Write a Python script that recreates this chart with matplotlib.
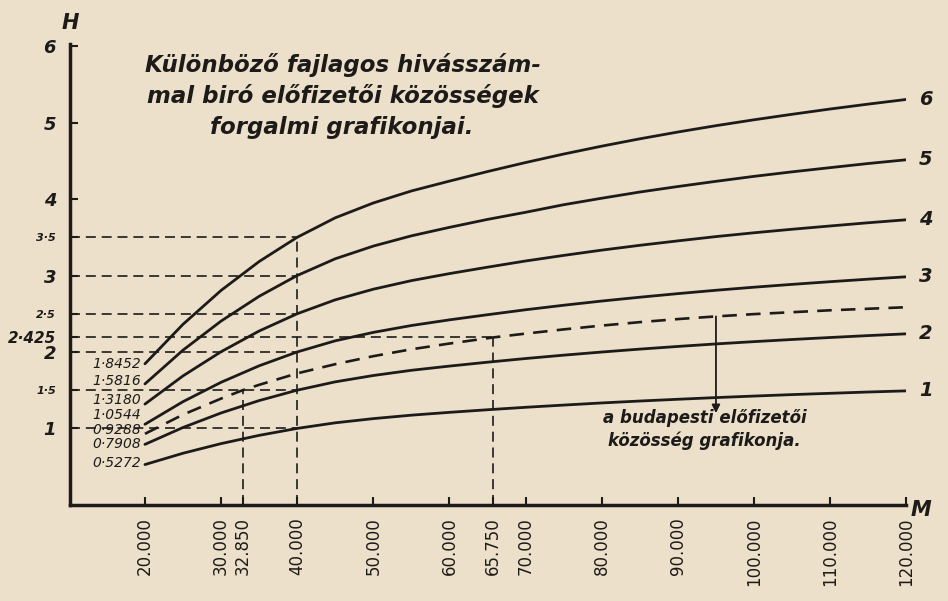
import matplotlib.pyplot as plt
import numpy as np

# subscriber count (M) and traffic (H)
M_VALUES = [20000, 25000, 30000, 35000, 40000, 45000, 50000, 55000, 60000, 65000, 70000,
            75000, 80000, 85000, 90000, 95000, 100000, 105000, 110000, 115000, 120000]
CURVE_1 = [0.527, 0.675, 0.801, 0.909, 1.000, 1.073, 1.128, 1.173, 1.210, 1.244, 1.276,
           1.305, 1.333, 1.358, 1.381, 1.403, 1.423, 1.442, 1.459, 1.476, 1.491]
CURVE_2 = [0.791, 1.012, 1.202, 1.364, 1.500, 1.609, 1.692, 1.760, 1.815, 1.866, 1.914,
           1.958, 1.999, 2.037, 2.072, 2.105, 2.135, 2.163, 2.189, 2.214, 2.237]
CURVE_3 = [1.054, 1.350, 1.603, 1.819, 2.000, 2.146, 2.256, 2.346, 2.420, 2.487, 2.552,
           2.611, 2.666, 2.716, 2.763, 2.807, 2.847, 2.884, 2.919, 2.952, 2.983]
CURVE_4 = [1.318, 1.687, 2.003, 2.274, 2.500, 2.682, 2.821, 2.933, 3.025, 3.109, 3.190,
           3.263, 3.332, 3.395, 3.453, 3.509, 3.559, 3.605, 3.648, 3.690, 3.729]
CURVE_5 = [1.582, 2.024, 2.404, 2.728, 3.000, 3.219, 3.385, 3.519, 3.630, 3.734, 3.827,
           3.926, 4.011, 4.092, 4.164, 4.232, 4.297, 4.356, 4.411, 4.465, 4.514]
CURVE_6 = [1.845, 2.362, 2.805, 3.183, 3.500, 3.755, 3.949, 4.106, 4.235, 4.360, 4.478,
           4.589, 4.692, 4.788, 4.877, 4.960, 5.037, 5.109, 5.178, 5.242, 5.303]
CURVES = [CURVE_1, CURVE_2, CURVE_3, CURVE_4, CURVE_5, CURVE_6]
CURVE_NAMES = ["1", "2", "3", "4", "5", "6"]
START_LABELS = ["0·5272", "0·7908", "1·0544", "1·3180", "1·5816", "1·8452"]

# the Budapest community (dashed curve)
BUDAPEST_M = [20000, 25000, 30000, 32850, 35000, 40000, 45000, 50000, 55000, 60000, 65750,
              70000, 75000, 80000, 85000, 90000, 95000, 100000, 105000, 110000, 115000, 120000]
BUDAPEST_H = [0.929, 1.180, 1.390, 1.500, 1.570, 1.720, 1.840, 1.945, 2.035, 2.110, 2.190,
              2.240, 2.295, 2.345, 2.390, 2.430, 2.465, 2.495, 2.520, 2.545, 2.565, 2.585]
BUDAPEST_LABEL = "0·9288"

# marked reference points
REF_M = 40000
BUDAPEST_REF_M = [32850, 65750]
LEVEL_LABELS = {"1": 0, "1·5": 1, "2": 2, "2·5": 3, "3": 4, "3·5": 5}

X_TICKS = [20000, 30000, 32850, 40000, 50000, 60000, 65750, 70000,
           80000, 90000, 100000, 110000, 120000]

INK = "#1d1b19"
PAPER = "#ede0ca"
X_LEFT = 10150

fig = plt.figure(figsize=(9.48, 6.01), dpi=100, facecolor=PAPER)
ax = fig.add_axes([0.0738, 0.160, 0.8822, 0.767])
ax.set_facecolor(PAPER)
ax.set_xlim(X_LEFT, 120000)
ax.set_ylim(0, 6.03)

for curve in CURVES:
    ax.plot(M_VALUES, curve, color=INK, lw=2.0, solid_capstyle="round")
ax.plot(BUDAPEST_M, BUDAPEST_H, color=INK, lw=1.9, dashes=(5.5, 3.5))

# dashed construction lines
ref_idx = M_VALUES.index(REF_M)
ref_levels = [c[ref_idx] for c in CURVES]
dash_kw = dict(color=INK, lw=1.2, dashes=(6, 3.5))
for level in ref_levels:
    ax.plot([X_LEFT, REF_M], [level, level], **dash_kw)
ax.plot([REF_M, REF_M], [0, max(ref_levels)], **dash_kw)
bud_levels = []
for m in BUDAPEST_REF_M:
    h = BUDAPEST_H[BUDAPEST_M.index(m)]
    bud_levels.append(h)
    ax.plot([m, m], [0, h], **dash_kw)
ax.plot([X_LEFT, BUDAPEST_REF_M[1]], [bud_levels[1]] * 2, **dash_kw)

# starting value labels
offsets = [1, 0, 7, 3, 2, 0]
for curve, label, dy in zip(CURVES, START_LABELS, offsets):
    ax.annotate(label, (M_VALUES[0], curve[0]), xytext=(-3, dy),
                textcoords="offset points", ha="right", va="center",
                fontsize=10, fontstyle="italic", color=INK)
ax.annotate(BUDAPEST_LABEL, (BUDAPEST_M[0], BUDAPEST_H[0]), xytext=(-3, 3),
            textcoords="offset points", ha="right", va="center",
            fontsize=10, fontstyle="italic", color=INK)

# curve numbers at the right end
for curve, name in zip(CURVES, CURVE_NAMES):
    ax.annotate(name, (M_VALUES[-1], curve[-1]), xytext=(14, 0),
                textcoords="offset points", ha="center", va="center",
                fontsize=14, fontweight="bold", fontstyle="italic", color=INK,
                annotation_clip=False)

# y ticks
yticks = [4, 5, 6]
ylabels = ["4", "5", "6"]
ysizes = [13, 13, 13]
for text, i in LEVEL_LABELS.items():
    yticks.append(ref_levels[i])
    ylabels.append(text)
    ysizes.append(13 if "·" not in text else 8)
yticks.append(bud_levels[1])
ylabels.append("2·425")
ysizes.append(11)
ax.set_yticks(yticks)
ax.set_yticklabels(ylabels)
for lab, size in zip(ax.get_yticklabels(), ysizes):
    lab.set_fontsize(size)
    lab.set_fontweight("bold")
    lab.set_fontstyle("italic")
    lab.set_color(INK)

ax.set_xticks(X_TICKS)
ax.set_xticklabels([f"{m // 1000}.{m % 1000:03d}" for m in X_TICKS],
                   rotation=90, fontsize=12, color=INK)
ax.tick_params(axis="both", direction="in", length=6, width=1.5, color=INK)
ax.tick_params(axis="y", pad=10)
ax.tick_params(axis="x", pad=9)

for side in ["top", "right"]:
    ax.spines[side].set_visible(False)
for side in ["left", "bottom"]:
    ax.spines[side].set_linewidth(2.5)
    ax.spines[side].set_color(INK)

fig.text(70 / 948, 1 - 23 / 601, "H", ha="center", va="center",
         fontsize=15, fontweight="bold", fontstyle="italic", color=INK)
fig.text(921 / 948, 1 - 510 / 601, "M", ha="center", va="center",
         fontsize=15, fontweight="bold", fontstyle="italic", color=INK)

# title
title_kw = dict(fontsize=16.5, fontweight="bold", fontstyle="italic", color=INK, va="baseline")
fig.text(145 / 948, 1 - 72 / 601, "Különböző fajlagos hivásszám-", **title_kw)
fig.text(147 / 948, 1 - 103 / 601, "mal biró előfizetői közösségek", **title_kw)
fig.text(210 / 948, 1 - 134 / 601, "forgalmi grafikonjai.", **title_kw)

# arrow to the Budapest curve
arrow_m = 95000
arrow_h = np.interp(arrow_m, BUDAPEST_M, BUDAPEST_H)
ax.annotate("", xy=(arrow_m, 1.2), xytext=(arrow_m, arrow_h),
            arrowprops=dict(arrowstyle="-|>", color=INK, lw=1.3, mutation_scale=12,
                            shrinkA=0, shrinkB=0))
ax.text(93500, 0.98, "a budapesti előfizetői\nközösség grafikonja.",
        ha="center", va="center", fontsize=12, fontweight="bold",
        fontstyle="italic", color=INK, linespacing=1.3)

fig.savefig("out.png", dpi=100, facecolor=PAPER)
